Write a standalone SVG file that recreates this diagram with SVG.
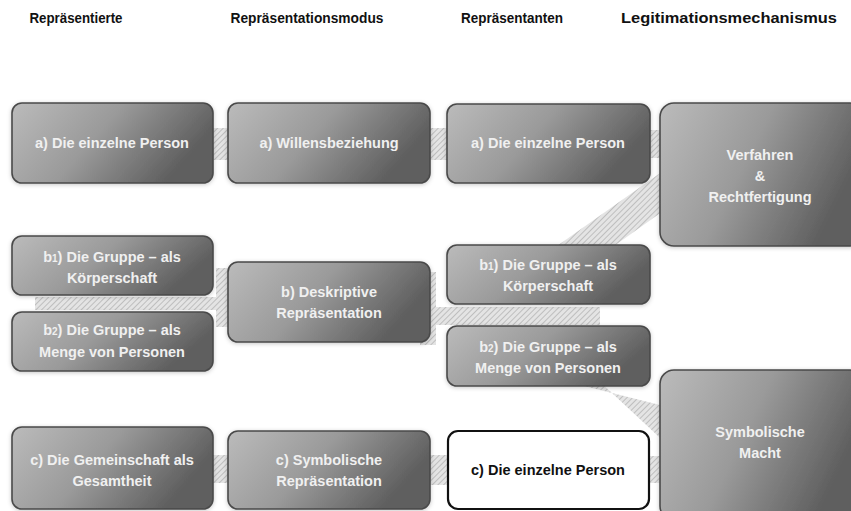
<svg xmlns="http://www.w3.org/2000/svg" width="851" height="511" viewBox="0 0 851 511">
<defs>
<linearGradient id="g" x1="0" y1="0" x2="1" y2="0.35">
<stop offset="0" stop-color="#bbb"/>
<stop offset="0.5" stop-color="#9a9a9a"/>
<stop offset="1" stop-color="#5e5e5e"/>
</linearGradient>
<pattern id="h" width="4" height="4" patternUnits="userSpaceOnUse" patternTransform="rotate(45)">
<rect width="4" height="4" fill="#e4e4e4"/>
<line x1="0" y1="0" x2="0" y2="4" stroke="#b5b5b5" stroke-width="1.6"/>
</pattern>
<filter id="sh" x="-10%" y="-10%" width="120%" height="125%">
<feDropShadow dx="0" dy="1" stdDeviation="2" flood-color="#000" flood-opacity="0.22"/>
</filter>
</defs>
<style>
.box{fill:url(#g);stroke:#4a4a4a;stroke-width:1.6;filter:url(#sh)}
.wbox{fill:#fff;stroke:#111;stroke-width:2.2}
.t{font-family:"Liberation Sans",Arial,sans-serif;font-weight:bold;font-size:14.5px;fill:#f0f0f0;text-anchor:middle}
.tb{fill:#111}
.hd{font-family:"Liberation Sans",Arial,sans-serif;font-weight:bold;font-size:15px;fill:#111;text-anchor:middle}
.sub{font-size:10px}
.band{fill:url(#h)}
</style>
<g id="headers">
<text class="hd" x="76" y="23" textLength="93" lengthAdjust="spacingAndGlyphs">Repräsentierte</text>
<text class="hd" x="307" y="23" textLength="153" lengthAdjust="spacingAndGlyphs">Repräsentationsmodus</text>
<text class="hd" x="512" y="23" textLength="102" lengthAdjust="spacingAndGlyphs">Repräsentanten</text>
<text class="hd" x="729" y="23" textLength="216" lengthAdjust="spacingAndGlyphs">Legitimationsmechanismus</text>
</g>
<g id="connectors">
<rect class="band" x="200" y="128" width="40" height="32"/>
<rect class="band" x="420" y="128" width="40" height="32"/>
<rect class="band" x="640" y="130" width="30" height="28"/>
<path class="band" d="M35,297 H216 V268 H232 V327 H216 V310 H35 Z"/>
<path class="band" d="M420,272 H436 V345 H420 Z M420,307 H600 V325 H420 Z"/>
<polygon class="band" points="540,258 600,256 680,199 680,159"/>
<polygon class="band" points="560,380 598,380 672,449 672,408"/>
<rect class="band" x="200" y="455" width="40" height="28"/>
<rect class="band" x="420" y="455" width="40" height="30"/>
<rect class="band" x="640" y="456" width="30" height="27"/>
</g>
<g id="n-a1"><rect class="box" x="12" y="103" width="201" height="80" rx="10"/><text class="t" x="112" y="148">a) Die einzelne Person</text></g>
<g id="n-a2"><rect class="box" x="228" y="103" width="202" height="80" rx="10"/><text class="t" x="329" y="148">a) Willensbeziehung</text></g>
<g id="n-a3"><rect class="box" x="447" y="104" width="203" height="79" rx="10"/><text class="t" x="548" y="148">a) Die einzelne Person</text></g>
<g id="n-verfahren"><rect class="box" x="660" y="103" width="204" height="143" rx="14"/><text class="t" x="760" y="160">Verfahren</text><text class="t" x="760" y="181">&amp;</text><text class="t" x="760" y="202">Rechtfertigung</text></g>
<g id="n-b1-left"><rect class="box" x="12" y="236" width="201" height="59" rx="10"/><text class="t" x="112" y="262">b<tspan class="sub">1</tspan>) Die Gruppe – als</text><text class="t" x="112" y="283">Körperschaft</text></g>
<g id="n-b2-left"><rect class="box" x="12" y="312" width="201" height="59" rx="10"/><text class="t" x="112" y="335">b<tspan class="sub">2</tspan>) Die Gruppe – als</text><text class="t" x="112" y="357">Menge von Personen</text></g>
<g id="n-b-mid"><rect class="box" x="228" y="262" width="202" height="80" rx="10"/><text class="t" x="329" y="297">b) Deskriptive</text><text class="t" x="329" y="318">Repräsentation</text></g>
<g id="n-b1-right"><rect class="box" x="447" y="245" width="203" height="59" rx="10"/><text class="t" x="548" y="270">b<tspan class="sub">1</tspan>) Die Gruppe – als</text><text class="t" x="548" y="291">Körperschaft</text></g>
<g id="n-b2-right"><rect class="box" x="447" y="326" width="203" height="60" rx="10"/><text class="t" x="548" y="352">b<tspan class="sub">2</tspan>) Die Gruppe – als</text><text class="t" x="548" y="373">Menge von Personen</text></g>
<g id="n-symbolische-macht"><rect class="box" x="660" y="370" width="204" height="150" rx="14"/><text class="t" x="760" y="437">Symbolische</text><text class="t" x="760" y="458">Macht</text></g>
<g id="n-c1"><rect class="box" x="12" y="427" width="201" height="82" rx="10"/><text class="t" x="112" y="465">c) Die Gemeinschaft als</text><text class="t" x="112" y="486">Gesamtheit</text></g>
<g id="n-c2"><rect class="box" x="228" y="431" width="202" height="78" rx="10"/><text class="t" x="329" y="465">c) Symbolische</text><text class="t" x="329" y="486">Repräsentation</text></g>
<g id="n-c3"><rect class="wbox" x="448" y="431" width="201" height="78" rx="10"/><text class="t tb" x="548" y="475">c) Die einzelne Person</text></g>
</svg>
